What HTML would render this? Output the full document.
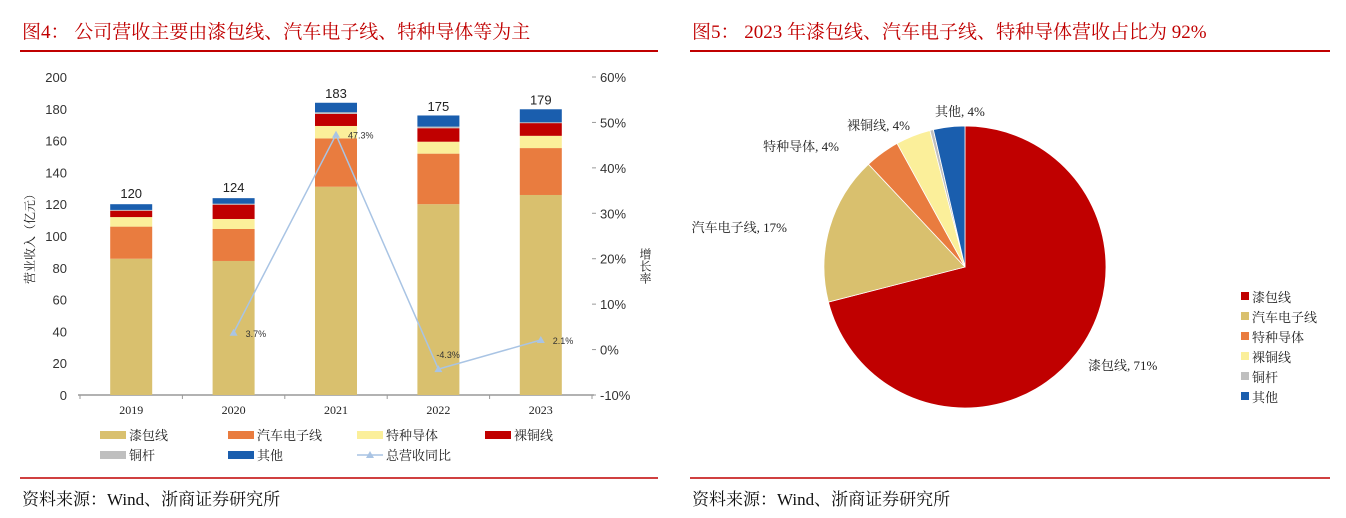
<!DOCTYPE html>
<html><head><meta charset="utf-8"><style>
body{margin:0;width:1346px;height:518px;background:#fff;overflow:hidden;font-family:"Liberation Serif","Noto Serif CJK SC",serif}
svg{position:absolute;left:0;top:0}
</style></head><body>
<svg width="1346" height="518" id="svg">
<g font-family="'Liberation Serif','Noto Serif CJK SC',serif">
<text x="22" y="38" font-size="19" fill="#c00000">图4：  公司营收主要由漆包线、汽车电子线、特种导体等为主</text>
<line x1="20" y1="51" x2="658" y2="51" stroke="#c00000" stroke-width="2"/>
<text x="692" y="38" font-size="19" fill="#c00000">图5：  2023 年漆包线、汽车电子线、特种导体营收占比为 92%</text>
<line x1="690" y1="51" x2="1330" y2="51" stroke="#c00000" stroke-width="2"/>
<line x1="20" y1="478" x2="658" y2="478" stroke="#c00000" stroke-width="1.5"/>
<line x1="690" y1="478" x2="1330" y2="478" stroke="#c00000" stroke-width="1.5"/>
<text x="22" y="505" font-size="17" fill="#111">资料来源：Wind、浙商证券研究所</text>
<text x="692" y="505" font-size="17" fill="#111">资料来源：Wind、浙商证券研究所</text>
</g>
<g id="bar"></g><g id="pie"></g>
</svg>
<script>
const years=['2019','2020','2021','2022','2023'];
const enamel=[85.7,84.3,131,120,125.8];
const auto=[20.2,20.1,30.4,31.8,29.5];
const special=[6,6.3,7.8,7.5,7.7];
const copper=[4,9,7.6,8.5,8];
const rod=[0.5,0.6,1,1,0.5];
const other=[3.6,3.5,6,7,8.2];
const totals=[120,124,183,175,179];
const growth=[null,3.7,47.3,-4.3,2.1];
const growthLabels=['','3.7%','47.3%','-4.3%','2.1%'];
const leftTicks=[0,20,40,60,80,100,120,140,160,180,200];
const rightTicks=[-10,0,10,20,30,40,50,60];
const seriesNames=['漆包线','汽车电子线','特种导体','裸铜线','铜杆','其他'];
const colors=['#d9c06e','#e97c3f','#fbef9a','#c00000','#bfbfbf','#1a5eae'];
const pieNames=['漆包线','汽车电子线','特种导体','裸铜线','铜杆','其他'];
const pieValues=[71,17,4,4,0.4,3.6];
const pieLabels=['漆包线, 71%','汽车电子线, 17%','特种导体, 4%','裸铜线, 4%','','其他, 4%'];
const pieColors=['#c00000','#d9c06e','#e97c3f','#fbef9a','#bfbfbf','#1a5eae'];

const NS='http://www.w3.org/2000/svg';
function mk(p,t,a,txt){const e=document.createElementNS(NS,t);for(const k in a)e.setAttribute(k,a[k]);if(txt!==undefined)e.textContent=txt;p.appendChild(e);return e;}
const sans="'Liberation Sans','Noto Sans CJK SC',sans-serif", serif="'Liberation Serif','Noto Serif CJK SC',serif";
const B=document.getElementById('bar');
const x0=80,x1=592,yb=395,yt=77;
const yL=v=>yb-(v/200)*(yb-yt);
const yR=v=>yb-((v+10)/70)*(yb-yt);
const bw=(x1-x0)/years.length;
const xc=i=>x0+bw*(i+0.5);
leftTicks.forEach(t=>{const e=mk(B,'text',{x:67,y:yL(t)+5,'text-anchor':'end','font-size':13,'font-family':sans,fill:'#333'},t);

});
rightTicks.forEach(t=>{const e=mk(B,'text',{x:600,y:yR(t)+5,'font-size':13,'font-family':sans,fill:'#333'},t+'%');


mk(B,'line',{x1:592,x2:596,y1:yR(t),y2:yR(t),stroke:'#999'});});
let ax=mk(B,'line',{x1:78,x2:594,y1:yb,y2:yb,stroke:'#999','stroke-width':1.5});


for(let i=0;i<=years.length;i++)mk(B,'line',{x1:x0+bw*i,x2:x0+bw*i,y1:yb,y2:yb+4,stroke:'#999'});
const series=[enamel,auto,special,copper,rod,other];
years.forEach((y,i)=>{let acc=0;
series.forEach((s,k)=>{const r=mk(B,'rect',{x:xc(i)-21,y:yL(acc+s[i]),width:42,height:yL(acc)-yL(acc+s[i]),fill:colors[k]});

acc+=s[i];});
const tl=mk(B,'text',{x:xc(i),y:yL(totals[i])-6,'text-anchor':'middle','font-size':13,'font-family':sans,fill:'#222'},totals[i]);


const xl=mk(B,'text',{x:xc(i),y:414,'text-anchor':'middle','font-size':12,'font-family':serif,fill:'#222'},y);

});
let pts=[];growth.forEach((g,i)=>{if(g!==null)pts.push([xc(i),yR(g)]);});
const pl=mk(B,'polyline',{points:pts.map(p=>p.join(',')).join(' '),fill:'none',stroke:'#a9c4e4','stroke-width':1.5});


growth.forEach((g,i)=>{if(g===null)return;const X=xc(i),Y=yR(g);
const m=mk(B,'polygon',{points:`${X},${Y-4} ${X-4},${Y+3} ${X+4},${Y+3}`,fill:'#a9c4e4'});


const l=mk(B,'text',{x:X+(g<0?-2:12),y:Y+(g<0?-11:4),'font-size':9,'font-family':sans,fill:'#333'},growthLabels[i]);

});
const yt1=mk(B,'text',{transform:'translate(34,236) rotate(-90)','text-anchor':'middle','font-size':12,'font-family':serif,fill:'#222'},'营业收入（亿元）');


const yt2=mk(B,'text',{x:645,y:248,'font-size':12,'font-family':serif,fill:'#222','writing-mode':'tb'},'增长率');


const lx=[100,228,357,485];
seriesNames.concat(['总营收同比']).forEach((n,k)=>{const X=lx[k%4],Y=436+Math.floor(k/4)*20;
if(k<6)mk(B,'rect',{x:X,y:Y-5,width:26,height:8,fill:colors[k]});
else{mk(B,'line',{x1:X,x2:X+26,y1:Y-1,y2:Y-1,stroke:'#a9c4e4','stroke-width':1.5});mk(B,'polygon',{points:`${X+13},${Y-5} ${X+9},${Y+2} ${X+17},${Y+2}`,fill:'#a9c4e4'});}
const t=mk(B,'text',{x:X+29,y:Y+4,'font-size':13,'font-family':serif,fill:'#222'},n);

});

const P=document.getElementById('pie');
const cx=965,cy=267,R=141;
const tot=pieValues.reduce((a,b)=>a+b,0);
let a0=0;
const labelPos=[[1088,370,'start'],[787,232,'end'],[839,151,'end'],[910,130,'end'],null,[935,116,'start']];
pieValues.forEach((v,k)=>{const a1=a0+v/tot*2*Math.PI;
const p=(a)=>[cx+R*Math.sin(a),cy-R*Math.cos(a)];
const [sx,sy]=p(a0),[ex,ey]=p(a1);
const s=mk(P,'path',{d:`M${cx},${cy} L${sx},${sy} A${R},${R} 0 ${a1-a0>Math.PI?1:0} 1 ${ex},${ey} Z`,fill:pieColors[k],stroke:'#fff','stroke-width':0.8});


if(labelPos[k]){const t=mk(P,'text',{x:labelPos[k][0],y:labelPos[k][1],'text-anchor':labelPos[k][2],'font-size':13,'font-family':serif,fill:'#222'},pieLabels[k]);

}
a0=a1;});
pieNames.forEach((n,k)=>{const Y=297+k*20;
mk(P,'rect',{x:1241,y:Y-5,width:8,height:8,fill:pieColors[k]});
const t=mk(P,'text',{x:1252,y:Y+5,'font-size':13,'font-family':serif,fill:'#222'},n);

});
</script>
</body></html>
